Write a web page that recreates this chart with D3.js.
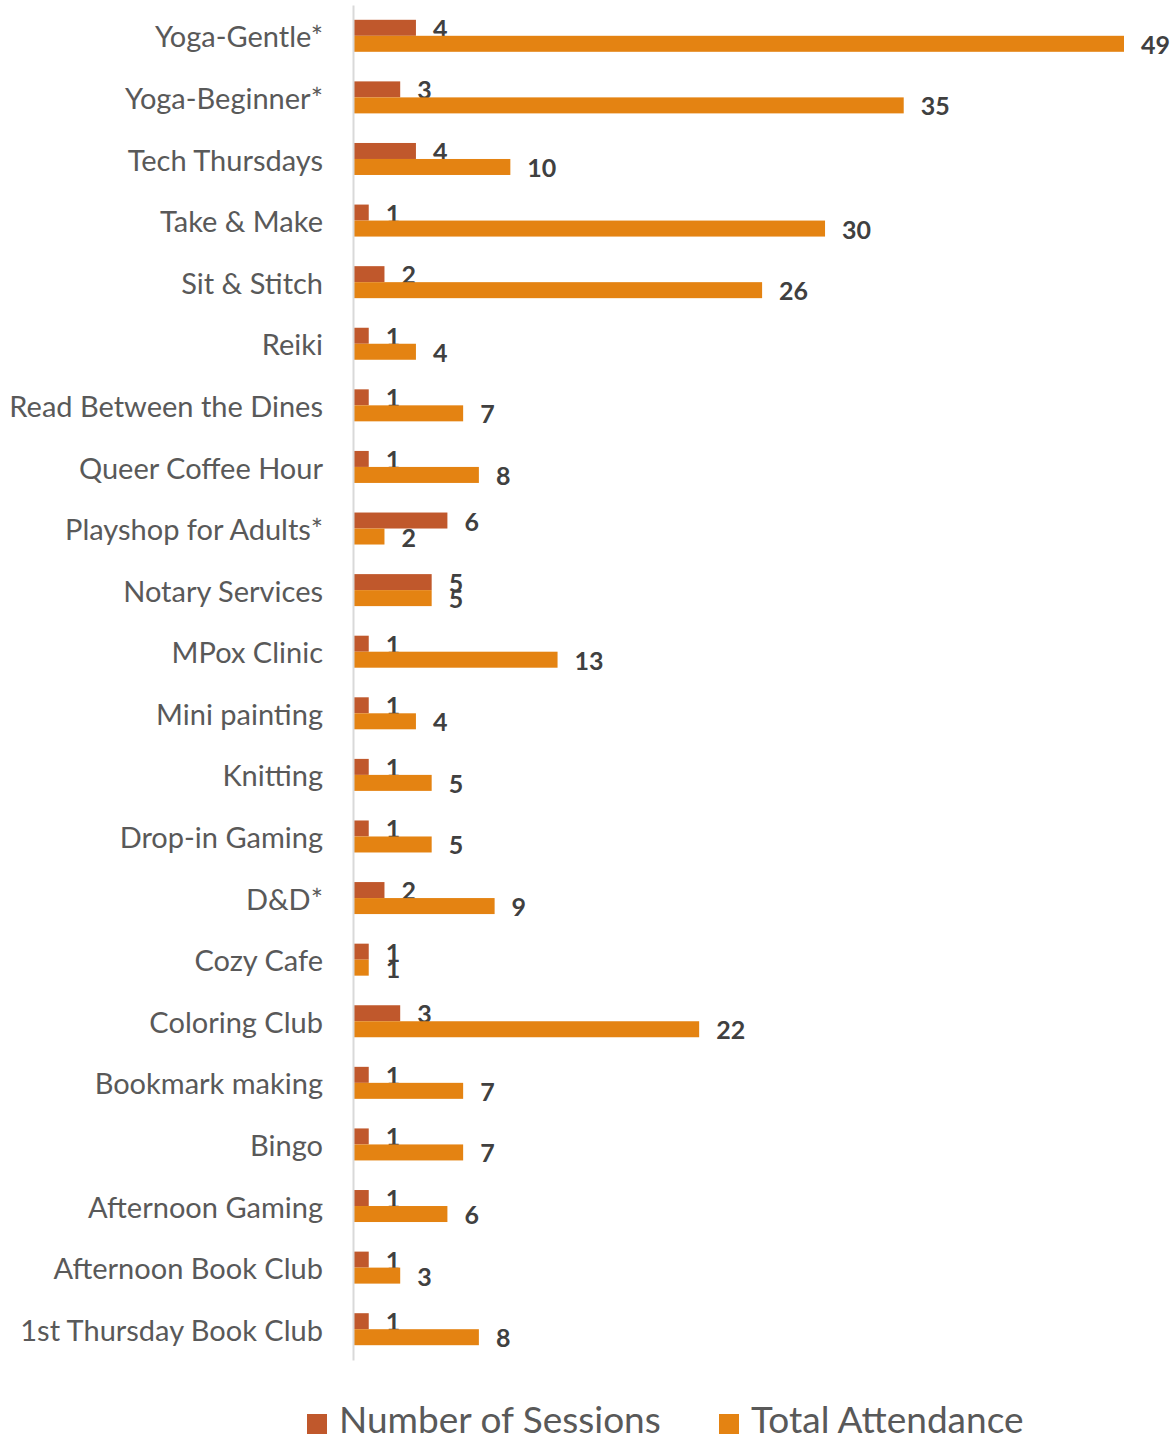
<!DOCTYPE html>
<html><head><meta charset="utf-8">
<script src="https://cdn.jsdelivr.net/npm/d3@7"></script>
<style>body{margin:0;background:#fff}svg{display:block}</style>
</head><body>
<script>
const categories = ["Yoga-Gentle*","Yoga-Beginner*","Tech Thursdays","Take & Make","Sit & Stitch","Reiki","Read Between the Dines","Queer Coffee Hour","Playshop for Adults*","Notary Services","MPox Clinic","Mini painting","Knitting","Drop-in Gaming","D&D*","Cozy Cafe","Coloring Club","Bookmark making","Bingo","Afternoon Gaming","Afternoon Book Club","1st Thursday Book Club"];
const sessions = [4,3,4,1,2,1,1,1,6,5,1,1,1,1,2,1,3,1,1,1,1,1];
const attendance = [49,35,10,30,26,4,7,8,2,5,13,4,5,5,9,1,22,7,7,6,3,8];
const seriesNames = ["Number of Sessions","Total Attendance"];
const colors = ["#C0582C","#E48312"];

const W=1175,H=1441;
const svg=d3.select("body").append("svg").attr("width",W).attr("height",H);
const x=d3.scaleLinear().domain([0,49]).range([353,1124]);
const y=d3.scaleBand().domain(categories).range([5,1360]);
const inner=d3.scaleBand().domain([0,1]).range([0,32]);
const font="Lato, 'Open Sans', sans-serif";

const series=[sessions,attendance];
const g=svg.append("g");
categories.forEach((c,i)=>{
  const cy=y(c)+y.bandwidth()/2-16;
  series.forEach((s,k)=>{
    g.append("rect").attr("x",x(0)).attr("y",cy+inner(k))
     .attr("width",x(s[i])-x(0)).attr("height",inner.bandwidth())
     .attr("fill",colors[k]);
    g.append("text").attr("x",x(s[i])+17).attr("y",cy+inner(k)+inner.bandwidth()/2+1)
     .attr("dy","0.36em").attr("font-family",font).attr("font-weight","bold")
     .attr("font-size",25).attr("fill","#404040").text(s[i]);
  });
});

// axis
const ax=svg.append("g").attr("transform",`translate(${x(0)},0)`)
  .call(d3.axisLeft(y).tickSize(0).tickPadding(30));
ax.select(".domain").attr("stroke","#D9D9D9").attr("stroke-width",2);
ax.selectAll("text").attr("font-family",font).attr("font-size",29).attr("fill","#595959").attr("dy","0.4em");

// legend
const leg=svg.append("g");
const items=[{x:307,t:seriesNames[0],c:colors[0]},{x:719,t:seriesNames[1],c:colors[1]}];
items.forEach(d=>{
  leg.append("rect").attr("x",d.x).attr("y",1414).attr("width",20).attr("height",20).attr("fill",d.c);
  leg.append("text").attr("x",d.x+32).attr("y",1420).attr("dy","0.36em")
    .attr("font-family",font).attr("font-size",37).attr("fill","#595959").text(d.t);
});
</script>
</body></html>
